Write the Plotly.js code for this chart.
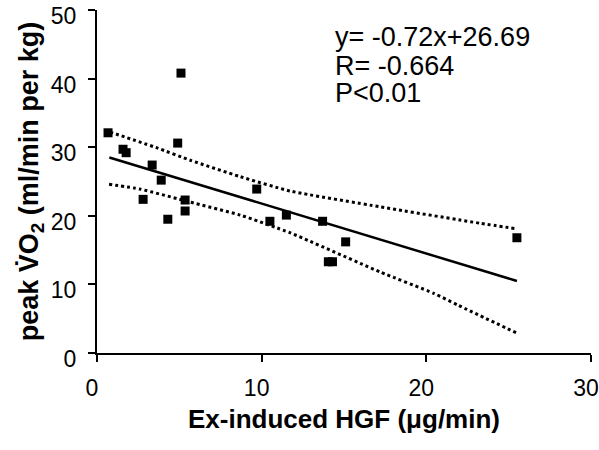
<!DOCTYPE html>
<html>
<head>
<meta charset="utf-8">
<script src="https://cdn.plot.ly/plotly-3.0.1.min.js"></script>
<style>html,body{margin:0;padding:0;background:#fff;}#chart{width:599px;height:450px;}</style>
</head>
<body>
<div id="chart"></div>
<script>
// Scatter data (Ex-induced HGF, peak VO2)
const hgf = [0.67, 1.58, 1.77, 2.8, 3.35, 3.9, 4.3, 4.9, 5.1, 5.35, 5.35, 9.7, 10.5, 11.5, 13.7, 14.05, 14.3, 15.1, 25.5];
const vo2 = [32.1, 29.7, 29.2, 22.4, 27.4, 25.2, 19.5, 30.6, 40.8, 22.3, 20.7, 23.9, 19.2, 20.1, 19.2, 13.3, 13.3, 16.2, 16.8];

// Regression line as drawn
const fitX = [0.75, 25.5];
const fitY = [28.5, 10.5];

// Confidence band (dotted) as drawn
const upX = [0.8, 3.65, 5.66, 8.7, 11.75, 17.2, 23.3, 25.5];
const upY = [32.2, 29.9, 28.1, 25.7, 23.6, 21.3, 18.9, 18.1];
const loX = [0.73, 2.6, 5.66, 8.7, 11.75, 17.2, 20.45, 21.9, 25.5];
const loY = [24.6, 23.9, 22.0, 20.1, 17.5, 11.8, 8.7, 7.0, 2.9];

// Tick values
const xTicks = [0, 10, 20, 30];
const yTicks = [0, 10, 20, 30, 40, 50];

// Statistics text
const statLines = ["y= -0.72x+26.69", "R= -0.664", "P<0.01"];

const FONT = "Liberation Sans, Arial, sans-serif";

const traces = [
  {x: upX, y: upY, mode: "lines", line: {color: "#000", width: 3, dash: "dot", shape: "spline", smoothing: 0.5}, hoverinfo: "skip"},
  {x: loX, y: loY, mode: "lines", line: {color: "#000", width: 3, dash: "dot", shape: "spline", smoothing: 0.5}, hoverinfo: "skip"},
  {x: fitX, y: fitY, mode: "lines", line: {color: "#000", width: 2.5}},
  {x: hgf, y: vo2, mode: "markers", marker: {symbol: "square", size: 9, color: "#000"}}
];

const statY = [0.92, 0.838, 0.757];
const annotations = statLines.map((t, i) => ({
  text: t, xref: "paper", yref: "paper", x: 0.478, y: statY[i],
  xanchor: "left", yanchor: "middle", showarrow: false,
  font: {family: FONT, size: 27, color: "#000"}
}));

const layout = {
  width: 599, height: 450,
  margin: {l: 97, r: 8, t: 10, b: 97},
  paper_bgcolor: "#fff", plot_bgcolor: "#fff",
  showlegend: false,
  font: {family: FONT, color: "#000"},
  xaxis: {
    range: [0, 30], tickvals: xTicks, ticktext: xTicks.map(String),
    showline: true, linecolor: "#000", linewidth: 2,
    ticks: "outside", ticklen: 7, tickwidth: 2, tickcolor: "#000",
    showgrid: false, zeroline: false,
    ticklabeloverflow: "allow", ticklabelstandoff: 6, ticklabelshift: -5,
    tickfont: {family: FONT, size: 23, color: "#000"},
    title: {text: "Ex-induced HGF (\u03bcg/min)", font: {family: FONT, size: 26, color: "#000", weight: "bold"}, standoff: 10}
  },
  yaxis: {
    range: [0, 50], tickvals: yTicks, ticktext: yTicks.map(String),
    showline: true, linecolor: "#000", linewidth: 2,
    ticks: "outside", ticklen: 7, tickwidth: 2, tickcolor: "#000",
    showgrid: false, zeroline: false,
    ticklabeloverflow: "allow", ticklabelstandoff: 7, ticklabelshift: 6,
    tickfont: {family: FONT, size: 23, color: "#000"},
    title: {text: "peak V\u0307O<sub>2</sub> (ml/min per kg)", font: {family: FONT, size: 27, color: "#000", weight: "bold"}, standoff: 4}
  },
  annotations: annotations
};

Plotly.newPlot("chart", traces, layout, {staticPlot: true, displayModeBar: false});
</script>
</body>
</html>
